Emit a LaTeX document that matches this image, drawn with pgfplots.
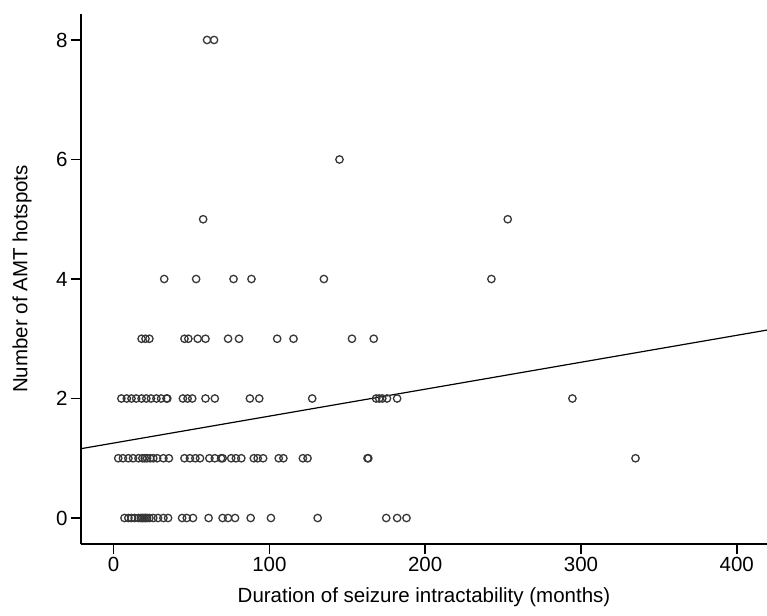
\documentclass[border=0pt]{standalone}
\usepackage{fontspec}
\setmainfont{Liberation Sans}
\usepackage{pgfplots}
\pgfplotsset{compat=1.18}
\definecolor{markgray}{RGB}{55,55,55}
\begin{document}
\begin{tikzpicture}
\useasboundingbox (0,0) rectangle (767pt,615pt);
\begin{axis}[
  at={(81pt,71pt)}, anchor=south west,
  width=686pt, height=530pt, scale only axis,
  xmin=-20.9, xmax=419.4,
  ymin=-0.435, ymax=8.435,
  axis x line*=bottom, axis y line*=left,
  axis line style={line width=2.2pt, black},
  xtick={0,100,200,300,400},
  ytick={0,2,4,6,8},
  tick align=outside,
  major tick length=10pt,
  tick style={line width=1.5pt, black},
  tick label style={font=\fontsize{20.5}{24}\selectfont},
  label style={font=\fontsize{20.5}{24}\selectfont},
  /pgf/number format/assume math mode=true,
  xlabel={Duration of seizure intractability (months)},
  ylabel={Number of AMT hotspots},
  xlabel style={at={(axis description cs:0.5,-0.1)}, anchor=center},
  ylabel style={at={(axis description cs:-0.086,0.5)}, anchor=center},
]
% scatter: months vs hotspots
\addplot[only marks, mark=o, mark size=3.7pt,
  mark options={line width=1.3pt, draw=markgray}] coordinates {
  (7,0) (9.5,0) (11.5,0) (13.5,0) (16,0) (17.5,0) (18.5,0) (19.5,0) (20.5,0)
  (21.5,0) (23,0) (25.5,0) (28.5,0) (32,0) (35,0) (44,0) (47,0) (51,0)
  (61,0) (70,0) (73.5,0) (78,0) (88,0) (101,0) (131,0) (175,0) (182,0) (188,0)
  (3,1) (6,1) (9.5,1) (12.5,1) (16,1) (18.5,1) (20,1) (21.5,1) (23.5,1)
  (25.5,1) (28,1) (32,1) (35.5,1) (45.5,1) (49,1) (52.5,1) (55.5,1) (61.5,1)
  (65,1) (69,1) (70,1) (75.5,1) (78.5,1) (82,1) (90,1) (92.5,1) (96,1)
  (106,1) (109,1) (121.5,1) (124.5,1) (163,1) (163.5,1) (335,1)
  (5,2) (8.5,2) (11.5,2) (14.5,2) (18,2) (21,2) (24,2) (27.5,2) (30.5,2)
  (34,2) (34.5,2) (44.5,2) (47.5,2) (50.5,2) (59,2) (65,2) (87.5,2) (93.5,2)
  (127.5,2) (168.5,2) (170.5,2) (172.5,2) (175.5,2) (182,2) (294.5,2)
  (18,3) (20.5,3) (23,3) (45.5,3) (48,3) (54,3) (59,3) (73.5,3) (80.5,3)
  (105,3) (115.5,3) (153,3) (167,3)
  (32.5,4) (53,4) (77,4) (88.5,4) (135,4) (242.5,4)
  (57.5,5) (253,5)
  (145,6)
  (60,8) (64.5,8)
};
% fitted line
\addplot[black, line width=1.2pt] coordinates {(-20.9,1.16) (419.4,3.145)};
\end{axis}
\end{tikzpicture}
\end{document}
